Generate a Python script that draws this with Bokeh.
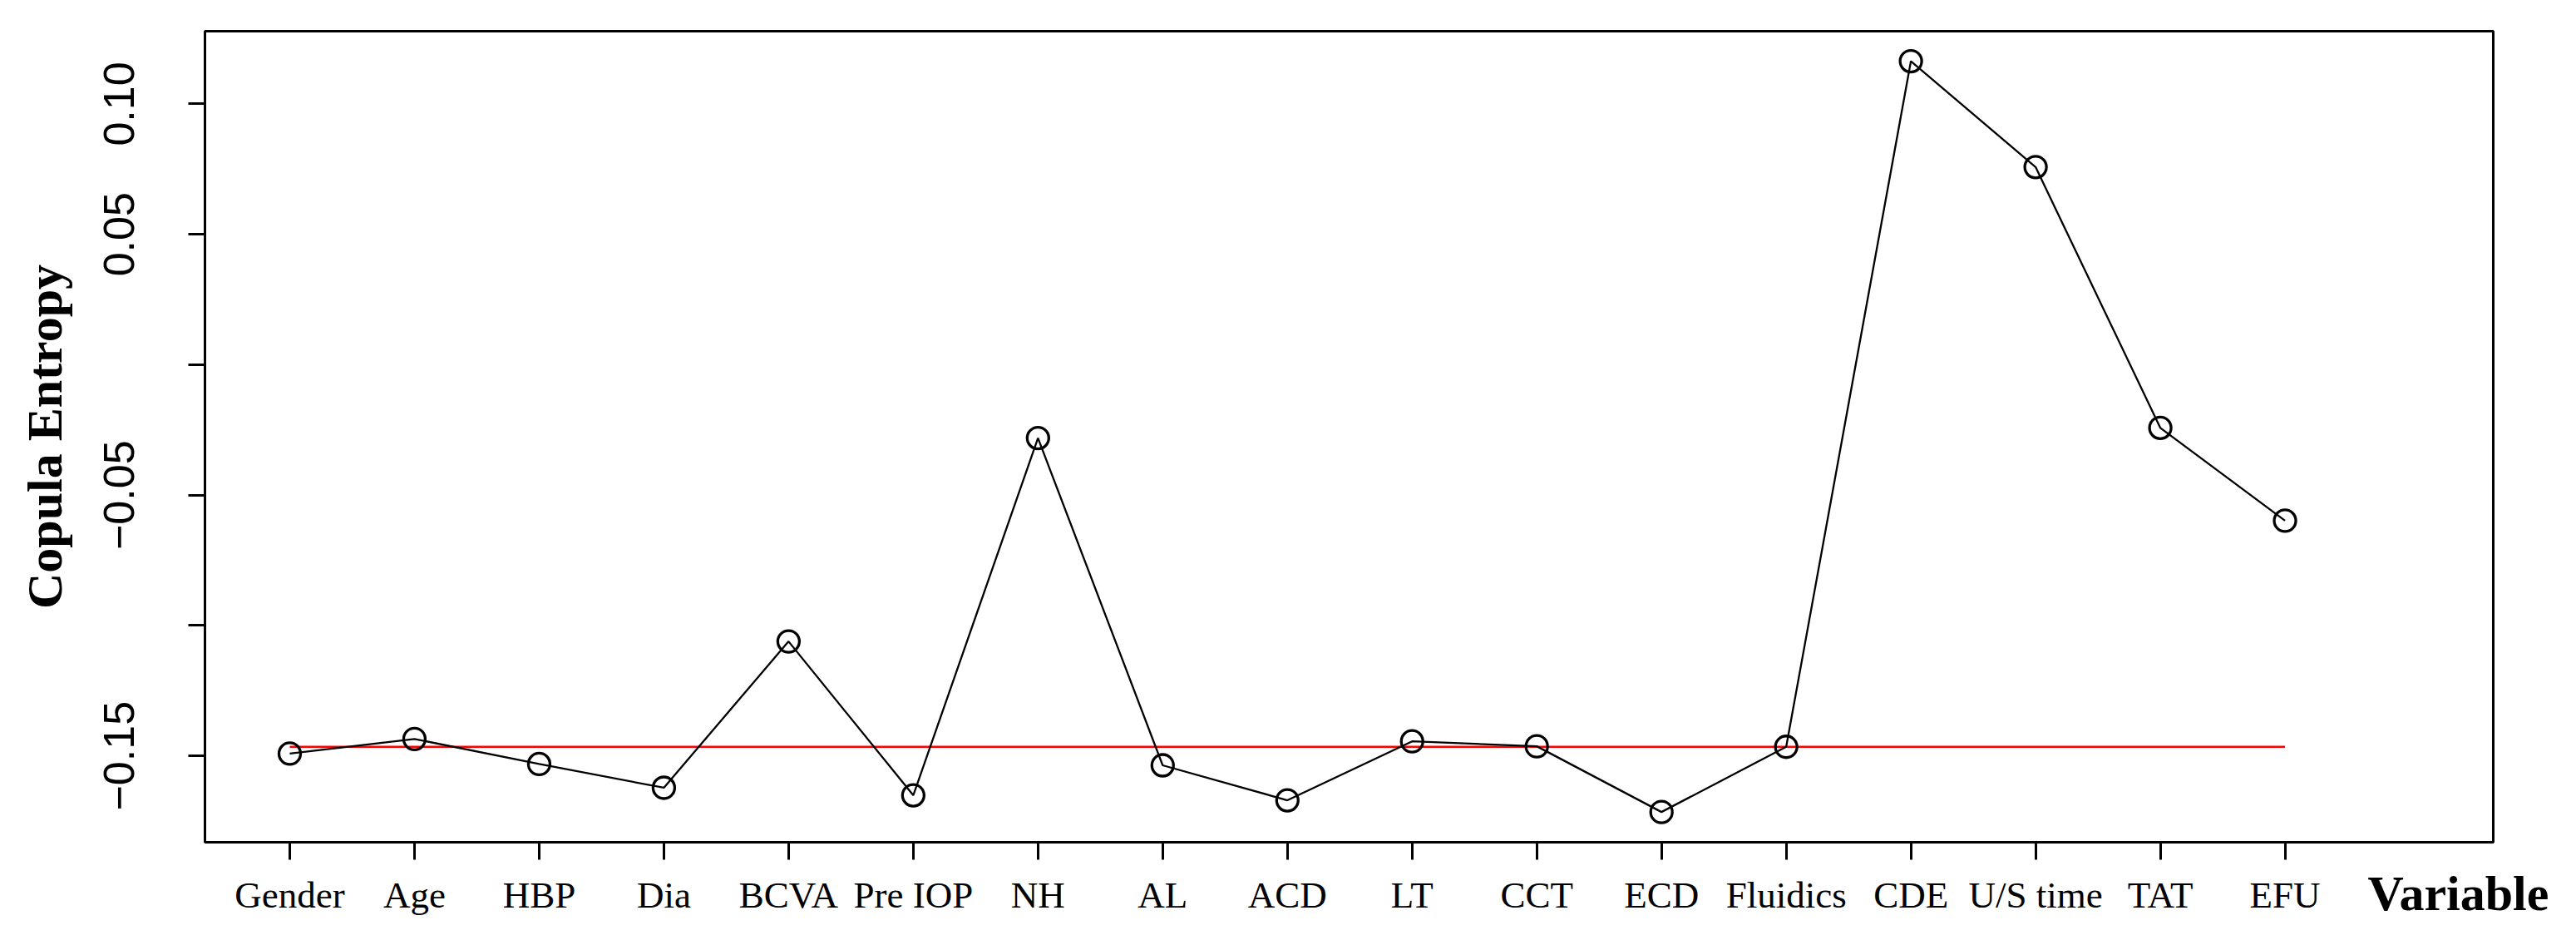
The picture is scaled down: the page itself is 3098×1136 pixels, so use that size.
import math
from bokeh.plotting import figure
from bokeh.models import FixedTicker, LinearAxis, Range1d
from bokeh.embed import file_html
from bokeh.resources import INLINE

# ---- data ----
variables = ["Gender", "Age", "HBP", "Dia", "BCVA", "Pre IOP", "NH", "AL", "ACD",
             "LT", "CCT", "ECD", "Fluidics", "CDE", "U/S time", "TAT", "EFU"]
copula_entropy = [-0.1491, -0.1435, -0.1531, -0.1622, -0.1061, -0.1651, -0.0281,
                  -0.1536, -0.1670, -0.1444, -0.1463, -0.1715, -0.1465, 0.1164,
                  0.0758, -0.0242, -0.0598]
threshold = -0.1465
y_ticks = [-0.15, -0.10, -0.05, 0.0, 0.05, 0.10]
y_tick_labels = ["\u22120.15", "", "\u22120.05", "", "0.05", "0.10"]
x_title = "Variable"
y_title = "Copula Entropy"
x_title_pos = 18.39

idx = list(range(1, len(variables) + 1))

p = figure(width=3082, height=1120, output_backend="svg", toolbar_location=None,
           x_range=Range1d(0.32, 18.67), y_range=Range1d(-0.1831, 0.1279),
           min_border_left=246, min_border_right=84, min_border_top=37,
           min_border_bottom=108)

p.xgrid.visible = False
p.ygrid.visible = False
p.outline_line_color = "black"
p.outline_line_width = 3
p.background_fill_color = "white"
p.border_fill_color = "white"

# x axis
xa = p.xaxis[0]
xa.ticker = FixedTicker(ticks=idx)
xa.major_label_overrides = {i: v for i, v in zip(idx, variables)}
xa.axis_line_color = None
xa.major_tick_line_width = 3
xa.major_tick_line_color = "black"
xa.major_tick_out = 21
xa.major_tick_in = 0
xa.minor_tick_line_color = None
xa.major_label_text_font = "Liberation Serif"
xa.major_label_text_font_size = "45px"
xa.major_label_text_color = "black"
xa.major_label_standoff = 17

# second bottom axis carrying the "Variable" title in the tick-label row
xt = LinearAxis(ticker=FixedTicker(ticks=[x_title_pos]),
                major_label_overrides={x_title_pos: x_title})
xt.axis_line_color = None
xt.major_tick_line_color = None
xt.major_tick_out = 0
xt.major_tick_in = 0
xt.minor_tick_line_color = None
xt.major_label_text_font = "Liberation Serif"
xt.major_label_text_font_style = "bold"
xt.major_label_text_font_size = "60px"
xt.major_label_text_color = "black"
xt.major_label_standoff = -63
p.add_layout(xt, "below")

# y axis
ya = p.yaxis[0]
ya.ticker = FixedTicker(ticks=y_ticks)
ya.major_label_overrides = {t: l for t, l in zip(y_ticks, y_tick_labels)}
ya.axis_line_color = None
ya.major_tick_line_width = 3
ya.major_tick_line_color = "black"
ya.major_tick_out = 20
ya.major_tick_in = 0
ya.minor_tick_line_color = None
ya.major_label_orientation = "parallel"
ya.major_label_text_font = "Liberation Sans"
ya.major_label_text_font_size = "52px"
ya.major_label_text_color = "black"
ya.major_label_standoff = 65
ya.axis_label = y_title
ya.axis_label_text_font = "Liberation Serif"
ya.axis_label_text_font_style = "bold"
ya.axis_label_text_font_size = "60px"
ya.axis_label_text_color = "black"
ya.axis_label_standoff = 36

# threshold line
p.line([idx[0], idx[-1]], [threshold, threshold], line_color="red", line_width=2.7)

# data line and points
p.line(idx, copula_entropy, line_color="black", line_width=2.3)
p.scatter(idx, copula_entropy, marker="circle", size=26, fill_color=None,
          line_color="black", line_width=3.3)

open("out.html", "w").write(file_html(p, INLINE))
